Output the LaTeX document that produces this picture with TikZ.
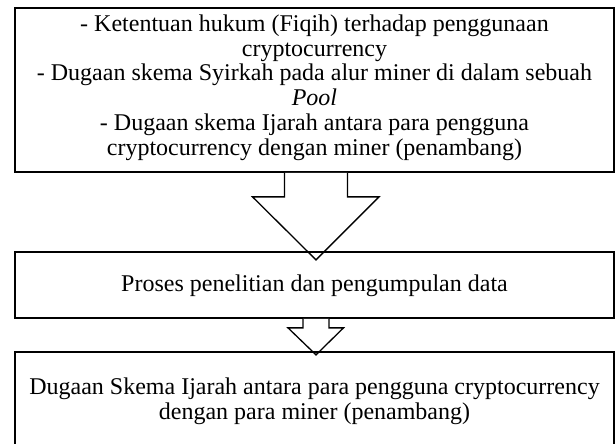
\documentclass[tikz,border=0pt]{standalone}
\usepackage{fontspec}
\setmainfont{Liberation Serif}
\usetikzlibrary{calc}

\tikzset{
  box/.style={draw, line width=1.7pt, minimum width=599pt, inner sep=0pt},
  txt/.style={align=center, inner sep=0pt, font=\fontsize{24}{24.8}\selectfont},
  arrowline/.style={line width=1.3pt, line join=miter}
}

\begin{document}
\begin{tikzpicture}[x=1pt,y=-1pt]
\useasboundingbox (0,0) rectangle (616,444);

\draw (314.5,90) node (b1) [box, minimum height=164pt] {};
\draw (314.5,87.5) node (t1) [txt] {- Ketentuan hukum (Fiqih) terhadap penggunaan\\
  cryptocurrency\\
  - Dugaan skema Syirkah pada alur miner di dalam sebuah\\
  \textit{Pool}\\
  - Dugaan skema Ijarah antara para pengguna\\
  cryptocurrency dengan miner (penambang)};

% panah 1
\fill[white] ($(b1.south)+(-30,0)$) -- ++(0,24) -- ++(-32,0) -- ($(b1.south)+(1.5,87)$)
  -- ($(b1.south)+(64.5,24)$) -- ++(-31.5,0) -- ($(b1.south)+(33,0)$) -- cycle;
\draw[arrowline] ($(b1.south)+(-30,0)$) -- ++(0,24) -- ++(-32,0) -- ($(b1.south)+(1.5,87)$)
  -- ($(b1.south)+(64.5,24)$) -- ++(-31.5,0) -- ($(b1.south)+(33,0)$);

\draw (314.5,285) node (b2) [box, minimum height=66pt] {};
\draw (314.5,286) node (t2) [txt] {Proses penelitian dan pengumpulan data};

% panah 2
\fill[white] ($(b2.south)+(-11.5,0)$) -- ++(0,9) -- ++(-15,0) -- ($(b2.south)+(1.5,36)$)
  -- ($(b2.south)+(29,9)$) -- ++(-14.5,0) -- ($(b2.south)+(14.5,0)$) -- cycle;
\draw[arrowline] ($(b2.south)+(-11.5,0)$) -- ++(0,9) -- ++(-15,0) -- ($(b2.south)+(1.5,36)$)
  -- ($(b2.south)+(29,9)$) -- ++(-14.5,0) -- ($(b2.south)+(14.5,0)$);

\draw (314.5,400) node (b3) [box, minimum height=96pt] {};
\draw (314.5,401) node (t3) [txt] {Dugaan Skema Ijarah antara para pengguna cryptocurrency\\
  dengan para miner (penambang)};

\end{tikzpicture}
\end{document}
